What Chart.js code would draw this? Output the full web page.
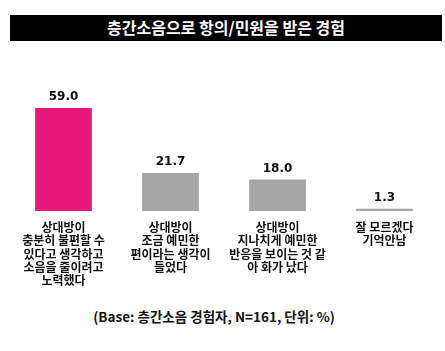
<!DOCTYPE html>
<html>
<head>
<meta charset="utf-8">
<script src="https://cdn.jsdelivr.net/npm/chart.js@4"></script>
<style>
  body { margin: 0; width: 445px; height: 351px; background: #fff; position: relative; overflow: hidden; }
  #title {
    position: absolute; left: 10px; top: 15px; width: 432px; height: 26px;
    background: #000; color: #fff; text-align: center; line-height: 26px;
    font: bold 16px "Noto Sans CJK KR", sans-serif;
  }
  #wrap { position: absolute; left: 10px; top: 60px; width: 428px; height: 229px; }
  #note {
    position: absolute; left: 0; top: 306px; width: 428px; text-align: center;
    font: bold 13.5px "Noto Sans CJK KR", sans-serif; color: #111;
  }
</style>
</head>
<body>
<div id="title">층간소음으로 항의/민원을 받은 경험</div>
<div id="wrap"><canvas id="chart"></canvas></div>
<div id="note">(Base: 층간소음 경험자, N=161, 단위: %)</div>
<script>
// categories (multi-line labels)
const categories = [
  ['상대방이', '충분히 불편할 수', '있다고 생각하고', '소음을 줄이려고', '노력했다'],
  ['상대방이', '조금 예민한', '편이라는 생각이', '들었다'],
  ['상대방이', '지나치게 예민한', '반응을 보이는 것 같', '아 화가 났다'],
  ['잘 모르겠다', '기억안남']
];
const values = [59.0, 21.7, 18.0, 1.3];
const barColors = ['#E8187B', '#A6A6A6', '#A6A6A6', '#A6A6A6'];

// value labels over the bars
const valueLabels = {
  id: 'valueLabels',
  afterDatasetsDraw(chart) {
    const ctx = chart.ctx;
    const meta = chart.getDatasetMeta(0);
    ctx.save();
    ctx.font = 'bold 12px "DejaVu Sans", sans-serif';
    ctx.fillStyle = '#111';
    ctx.textAlign = 'center';
    ctx.textBaseline = 'bottom';
    meta.data.forEach((bar, i) => {
      ctx.fillText(values[i].toFixed(1), bar.x, bar.y - 5);
    });
    ctx.restore();
  }
};

new Chart(document.getElementById('chart'), {
  type: 'bar',
  data: {
    labels: categories,
    datasets: [{
      data: values,
      backgroundColor: barColors,
      borderWidth: 0,
      barPercentage: 0.53,
      categoryPercentage: 1
    }]
  },
  options: {
    responsive: true,
    maintainAspectRatio: false,
    animation: false,
    layout: { padding: { top: 20 } },
    plugins: { legend: { display: false }, tooltip: { enabled: false } },
    scales: {
      x: {
        grid: { display: false },
        border: { display: false },
        ticks: {
          color: '#111',
          padding: 2,
          maxRotation: 0,
          autoSkip: false,
          font: { family: '"Noto Sans CJK KR", sans-serif', size: 12, weight: 'bold', lineHeight: 1.1 }
        }
      },
      y: { display: false, min: 0, max: 75 }
    }
  },
  plugins: [valueLabels]
});
</script>
</body>
</html>
